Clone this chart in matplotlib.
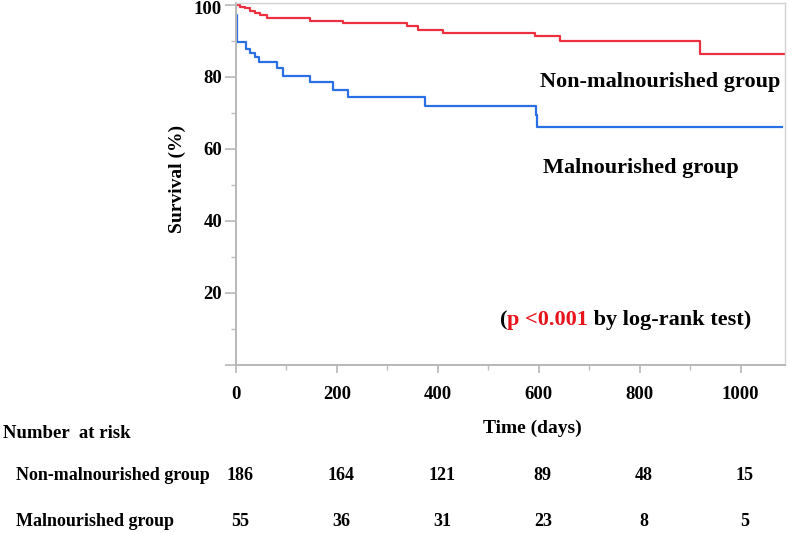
import matplotlib
matplotlib.use("Agg")
import matplotlib.pyplot as plt
import matplotlib.transforms as mtransforms

plt.rcParams['font.family'] = ['Liberation Serif', 'DejaVu Serif']
plt.rcParams['font.weight'] = 'bold'

# ---- data ----
non_mal_time = [0, 8, 18, 28, 38, 48, 61, 146, 212, 338, 361, 411, 592, 642, 919, 1090]
non_mal_surv = [100, 99.5, 99.0, 98.4, 97.8, 97.2, 96.2, 95.6, 94.9, 94.2, 93.0, 92.1, 91.2, 90.0, 86.4, 86.4]

mal_time = [0, 2, 20, 28, 38, 45, 81, 93, 146, 192, 222, 374, 594, 597, 1083]
mal_surv = [97.2, 89.8, 87.7, 86.5, 85.4, 84.1, 82.4, 80.3, 78.7, 76.4, 74.3, 71.9, 69.4, 66.2, 66.2]

x_ticks = [0, 200, 400, 600, 800, 1000]
x_tick_labels = ['0', '200', '400', '600', '800', '1000']
y_ticks = [0, 20, 40, 60, 80, 100]
y_tick_labels = ['', '20', '40', '60', '80', '100']

risk_groups = ['Non-malnourished group', 'Malnourished group']
risk_non_mal = [186, 164, 121, 89, 48, 15]
risk_mal = [55, 36, 31, 23, 8, 5]

RED = '#EC3040'
BLUE = '#2B6FE6'
W, H = 796, 533

fig = plt.figure(figsize=(W / 100, H / 100), dpi=100)
ax = fig.add_axes([236 / W, 1 - 365 / H, (785 - 236) / W, (365 - 3) / H])

ax.step(non_mal_time, non_mal_surv, where='post', color=RED, lw=1.6)
ax.step(mal_time, mal_surv, where='post', color=BLUE, lw=1.6)

ax.set_xlim(0, 1088)
ax.set_ylim(0, 100.5)

ax.set_xticks(x_ticks)
ax.set_xticklabels(x_tick_labels)
ax.set_yticks(y_ticks)
ax.set_yticklabels(y_tick_labels)
ax.set_xticks([100, 300, 500, 700, 900], minor=True)
ax.set_yticks([10, 30, 50, 70, 90], minor=True)

for s in ['left', 'bottom']:
    ax.spines[s].set_color('#b8b8b8')
    ax.spines[s].set_linewidth(1.4)
for s in ['top', 'right']:
    ax.spines[s].set_color('#d2d2d2')
    ax.spines[s].set_linewidth(1.0)

ax.tick_params(axis='y', which='major', length=8, width=1.2, color='#b8b8b8',
               labelsize=13.5, pad=2)
ax.tick_params(axis='y', which='minor', length=3.5, width=1.0, color='#c0c0c0')
ax.tick_params(axis='x', which='major', length=6, width=1.2, color='#b8b8b8',
               labelsize=13.5, pad=9)
ax.tick_params(axis='x', which='minor', length=3.5, width=1.0, color='#c0c0c0')
for lab in ax.get_xticklabels() + ax.get_yticklabels():
    lab.set_fontweight('bold')

# keep the top "100" label fully inside the figure
top_lab = ax.get_yticklabels()[-1]
top_lab.set_transform(top_lab.get_transform() +
                      mtransforms.ScaledTranslation(0, -3 / 100, fig.dpi_scale_trans))

# axis titles
fig.text(177 / W, 1 - 179 / H, 'Survival (%)', rotation=90, ha='center', va='center',
         fontsize=14, fontweight='bold')
fig.text(532 / W, 1 - 428 / H, 'Time (days)', ha='center', va='center',
         fontsize=14, fontweight='bold')

# group annotations
fig.text(540 / W, 1 - 82 / H, 'Non-malnourished group', ha='left', va='center',
         fontsize=16, fontweight='bold')
fig.text(543 / W, 1 - 168 / H, 'Malnourished group', ha='left', va='center',
         fontsize=16, fontweight='bold')

# p-value text with mixed colours
t1 = fig.text(500 / W, 1 - 320 / H, '(', ha='left', va='center', fontsize=16,
              fontweight='bold', color='black')
fig.canvas.draw()
r = fig.canvas.get_renderer()
bb1 = t1.get_window_extent(r)
t2 = fig.text(bb1.x1, bb1.y0, 'p <0.001', fontsize=16, fontweight='bold', color='#E8141C',
              ha='left', va='bottom', transform=mtransforms.IdentityTransform())
fig.canvas.draw()
bb2 = t2.get_window_extent(r)
fig.text(bb2.x1, bb2.y0, ' by log-rank test)', fontsize=16, fontweight='bold', color='black',
         ha='left', va='bottom', transform=mtransforms.IdentityTransform())

# number at risk table
fig.text(3 / W, 1 - 433 / H, 'Number  at risk', ha='left', va='center',
         fontsize=13.5, fontweight='bold')
row_y = [1 - 476 / H, 1 - 522 / H]
blend = mtransforms.blended_transform_factory(ax.transData, fig.transFigure)
for name, vals, y in zip(risk_groups, [risk_non_mal, risk_mal], row_y):
    fig.text(16 / W, y, name, ha='left', va='center', fontsize=13, fontweight='bold')
    for xv, v in zip(x_ticks, vals):
        fig.text(xv + 8, y, str(v), ha='center', va='center', fontsize=13,
                 fontweight='bold', transform=blend)

fig.savefig('out.png', dpi=100)
